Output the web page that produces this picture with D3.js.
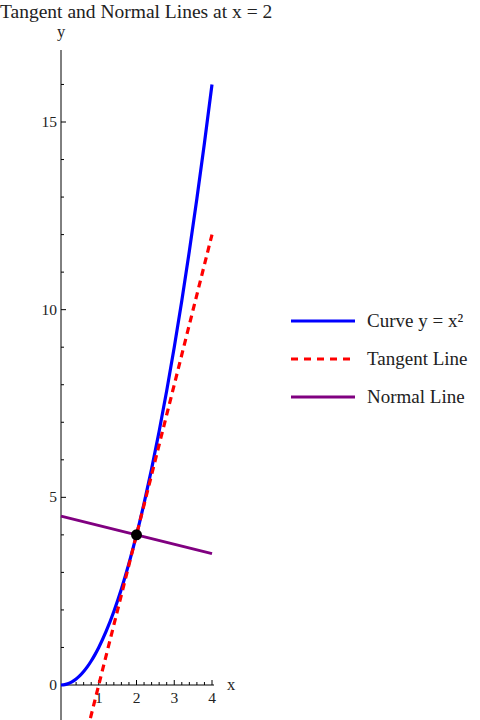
<!DOCTYPE html>
<html><head><meta charset="utf-8">
<script src="https://cdn.jsdelivr.net/npm/d3@7"></script>
<style>body{margin:0;background:#fff}svg{display:block}text{font-family:"Liberation Serif","DejaVu Serif",serif;fill:#222}</style>
</head><body><svg id="c" width="480" height="720"></svg>
<script>
const title = "Tangent and Normal Lines at x = 2";
const xMajorTicks = [1, 2, 3, 4];
const yMajorTicks = [0, 5, 10, 15];
const curveX = [0,0.1,0.2,0.3,0.4,0.5,0.6,0.7,0.8,0.9,1,1.2,1.4,1.6,1.8,2,2.2,2.4,2.6,2.8,3,3.2,3.4,3.6,3.8,4];
const curveY = [0,0.01,0.04,0.09,0.16,0.25,0.36,0.49,0.64,0.81,1,1.44,1.96,2.56,3.24,4,4.84,5.76,6.76,7.84,9,10.24,11.56,12.96,14.44,16];
const tangentX = [0.78, 4];
const tangentY = [-0.88, 12];
const normalX = [0, 4];
const normalY = [4.5, 3.5];
const pointX = [2], pointY = [4];
const legendLabels = ["Curve y = x²", "Tangent Line", "Normal Line"];
const colors = ["#0000ff", "#ff0000", "#800080"];

const svg = d3.select("#c");
const x = d3.scaleLinear().domain([0, 4]).range([61, 212]);
const y = d3.scaleLinear().domain([0, 15]).range([685, 122]);

svg.append("text").attr("x", 0).attr("y", 18).attr("font-size", 19.5).text(title);

// axes
const yAxisG = svg.append("g");
yAxisG.append("line").attr("x1", x(0)).attr("x2", x(0)).attr("y1", 50).attr("y2", 720).attr("stroke", "#000").attr("stroke-width", 1);
const xAxisG = svg.append("g");
xAxisG.append("line").attr("x1", x(0)).attr("x2", 214).attr("y1", y(0)).attr("y2", y(0)).attr("stroke", "#000");

const yMinor = d3.range(0, 17).filter(v => !yMajorTicks.includes(v));
yMinor.forEach(v => yAxisG.append("line").attr("x1", x(0)).attr("x2", x(0)+3).attr("y1", y(v)).attr("y2", y(v)).attr("stroke", "#000"));
yMajorTicks.forEach(v => {
  yAxisG.append("line").attr("x1", x(0)).attr("x2", x(0)+5).attr("y1", y(v)).attr("y2", y(v)).attr("stroke", "#000");
  yAxisG.append("text").attr("x", x(0)-4).attr("y", y(v)+5).attr("text-anchor", "end").attr("font-size", 15.5).text(v);
});
const xMinor = d3.range(1, 20).map(i => i*0.2).filter(v => Math.abs(v - Math.round(v)) > 1e-6);
xMinor.forEach(v => xAxisG.append("line").attr("x1", x(v)).attr("x2", x(v)).attr("y1", y(0)).attr("y2", y(0)-3).attr("stroke", "#000"));
xMajorTicks.forEach(v => {
  xAxisG.append("line").attr("x1", x(v)).attr("x2", x(v)).attr("y1", y(0)).attr("y2", y(0)-5).attr("stroke", "#000");
  xAxisG.append("text").attr("x", x(v)).attr("y", y(0)+18).attr("text-anchor", "middle").attr("font-size", 15.5).text(v);
});
svg.append("text").attr("x", 231).attr("y", 690).attr("text-anchor", "middle").attr("font-size", 16.5).text("x");
svg.append("text").attr("x", 61).attr("y", 37).attr("text-anchor", "middle").attr("font-size", 16.5).text("y");

const line = d3.line().x(d => x(d[0])).y(d => y(d[1])).curve(d3.curveMonotoneX);
const plot = svg.append("g");
plot.append("path").datum(normalX.map((v,i)=>[v, normalY[i]])).attr("d", line).attr("fill","none").attr("stroke", colors[2]).attr("stroke-width", 3);
plot.append("path").datum(curveX.map((v,i)=>[v, curveY[i]])).attr("d", line).attr("fill","none").attr("stroke", colors[0]).attr("stroke-width", 3.2);
plot.append("path").datum(tangentX.map((v,i)=>[v, tangentY[i]])).attr("d", d3.line().x(d=>x(d[0])).y(d=>y(d[1]))).attr("fill","none").attr("stroke", colors[1]).attr("stroke-width", 3.2).attr("stroke-dasharray", "7,5");
plot.selectAll("circle").data(pointX.map((v,i)=>[v, pointY[i]])).enter().append("circle")
  .attr("cx", d=>x(d[0])).attr("cy", d=>y(d[1])).attr("r", 5.5).attr("fill", "#000");

// legend
const lg = svg.append("g");
legendLabels.forEach((lab, i) => {
  const yy = 321 + i*38;
  lg.append("line").attr("x1", 291).attr("x2", 355).attr("y1", yy).attr("y2", yy)
    .attr("stroke", colors[i]).attr("stroke-width", 3).attr("stroke-dasharray", i===1 ? "7,6" : null);
  lg.append("text").attr("x", 367).attr("y", yy+6).attr("font-size", 19).text(lab);
});
</script></body></html>
